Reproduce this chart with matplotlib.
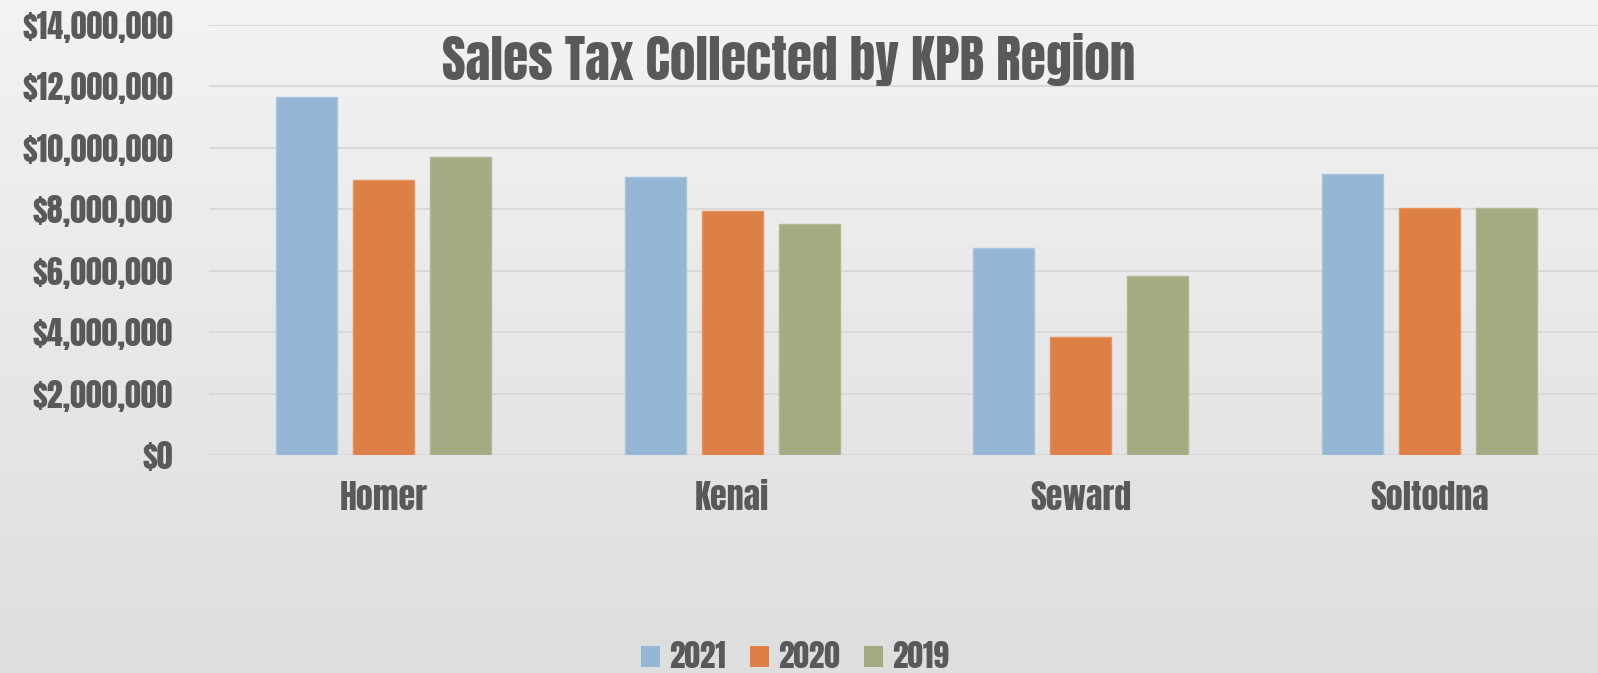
import matplotlib
matplotlib.use("Agg")
import matplotlib.pyplot as plt
import numpy as np
from matplotlib.patches import Patch
from matplotlib.ticker import FuncFormatter
from matplotlib.colors import LinearSegmentedColormap
from matplotlib import font_manager as fm

regions = ["Homer", "Kenai", "Seward", "Soltodna"]
years = ["2021", "2020", "2019"]
sales_2021 = [11660000, 9040000, 6750000, 9150000]
sales_2020 = [8940000, 7950000, 3830000, 8030000]
sales_2019 = [9700000, 7520000, 5820000, 8030000]
colors = ["#95b6d4", "#dd8047", "#a5ab81"]
edge_colors = ["#a9c4de", "#e8915c", "#b2b792"]

available = set(f.name for f in fm.fontManager.ttflist)
main_font = "DejaVu Sans"
for cand in ["Anton", "Oswald", "Fjalla One", "IBM Plex Sans Condensed", "Liberation Sans"]:
    if cand in available:
        main_font = cand
        break
FONT = [main_font, "DejaVu Sans"]
WEIGHT = "normal" if main_font in ("Anton", "Fjalla One") else "bold"

W, H = 1598, 673
fig = plt.figure(figsize=(W / 100, H / 100), dpi=100)
TXT = "#595959"

bg = fig.add_axes([0, 0, 1, 1], zorder=-10)
grad = np.linspace(0, 1, 256).reshape(-1, 1)
cmap = LinearSegmentedColormap.from_list("bg", ["#f3f3f3", "#e8e8e8", "#dedede"])
bg.imshow(grad, aspect="auto", cmap=cmap, extent=[0, 1, 0, 1])
bg.axis("off")

left_px, right_px, top_px, bot_px = 209, 1604, 25, 455
ax = fig.add_axes([left_px / W, (H - bot_px) / H, (right_px - left_px) / W, (bot_px - top_px) / H])
ax.patch.set_alpha(0)

x = np.arange(len(regions))
width = 0.175
step = 0.221
series = [sales_2021, sales_2020, sales_2019]
for i, (vals, c, ec) in enumerate(zip(series, colors, edge_colors)):
    ax.bar(x + (i - 1) * step, vals, width, color=c, edgecolor=ec, linewidth=1.0, zorder=3)

ax.set_xlim(-0.5, 3.5)
ax.set_ylim(0, 14000000)
ax.set_yticks(np.arange(0, 14000001, 2000000))
ax.yaxis.set_major_formatter(FuncFormatter(lambda v, p: "${:,.0f}".format(v)))
ax.set_xticks(x)
ax.set_xticklabels(regions)
ax.grid(axis="y", color="#d9d9d9", linewidth=1.5, zorder=0)
ax.set_axisbelow(True)
for s in ax.spines.values():
    s.set_visible(False)
ax.tick_params(axis="both", length=0)
ax.tick_params(axis="x", pad=19)
ax.tick_params(axis="y", pad=26)
for lab in ax.get_yticklabels():
    lab.set_fontfamily(FONT)
    lab.set_fontweight(WEIGHT)
    lab.set_fontsize(23)
    lab.set_color(TXT)
for lab in ax.get_xticklabels():
    lab.set_fontfamily(FONT)
    lab.set_fontweight(WEIGHT)
    lab.set_fontsize(24.5)
    lab.set_color(TXT)

fig.text(789 / W, (H - 59) / H, "Sales Tax Collected by KPB Region", ha="center", va="center",
         fontsize=37, fontweight=WEIGHT, family=FONT, color=TXT)

handles = [Patch(facecolor=c, edgecolor="none") for c in colors]
leg = fig.legend(handles, years, loc="center", bbox_to_anchor=(795 / W, (H - 656) / H), ncol=3,
                 frameon=False, handlelength=0.62, handleheight=0.62, handletextpad=0.3,
                 columnspacing=0.75, prop={"family": FONT, "weight": WEIGHT, "size": 22.5})
for t in leg.get_texts():
    t.set_color(TXT)

fig.savefig("out.png", dpi=100)
